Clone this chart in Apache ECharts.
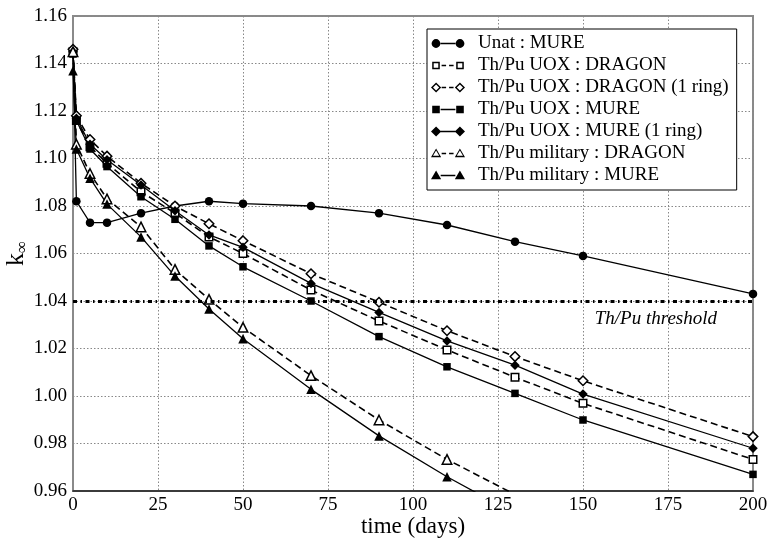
<!DOCTYPE html>
<html>
<head>
<meta charset="utf-8">
<script src="https://cdn.jsdelivr.net/npm/echarts@6/dist/echarts.min.js"></script>
<style>html,body{margin:0;padding:0;background:#fff;}#c{width:769px;height:539px;}</style>
</head>
<body>
<div id="c"></div>
<script>
// ---- data ----
const times = [0, 1, 5, 10, 20, 30, 40, 50, 70, 90, 110, 130, 150, 200];
const unatMure       = [1.145, 1.082, 1.073, 1.073, 1.077, 1.080, 1.082, 1.081, 1.080, 1.077, 1.072, 1.065, 1.059, 1.043];
const uoxDragon      = [1.145, 1.116, 1.105, 1.098, 1.086, 1.077, 1.067, 1.060, 1.0446, 1.0316, 1.0194, 1.0079, 0.9969, 0.9733];
const uoxDragon1     = [1.146, 1.118, 1.108, 1.101, 1.0896, 1.080, 1.0725, 1.0654, 1.0515, 1.0395, 1.0275, 1.0166, 1.0064, 0.9829];
const uoxMure        = [1.144, 1.116, 1.104, 1.0966, 1.0839, 1.0744, 1.0632, 1.0544, 1.040, 1.025, 1.0123, 1.0011, 0.9899, 0.967];
const uoxMure1       = [1.145, 1.117, 1.106, 1.0995, 1.0888, 1.078, 1.0678, 1.0626, 1.0474, 1.0352, 1.0232, 1.013, 1.0008, 0.978];
const milDragon      = [1.145, 1.106, 1.0937, 1.083, 1.0712, 1.0533, 1.0407, 1.0289, 1.0086, 0.9899, 0.9733, 0.9585];
const milMure        = [1.137, 1.104, 1.0917, 1.0808, 1.0670, 1.0505, 1.0366, 1.0241, 1.0028, 0.9832, 0.966, 0.9504];
const seriesNames = ['Unat : MURE', 'Th/Pu UOX : DRAGON', 'Th/Pu UOX : DRAGON (1 ring)', 'Th/Pu UOX : MURE',
                     'Th/Pu UOX : MURE (1 ring)', 'Th/Pu military : DRAGON', 'Th/Pu military : MURE'];
const thresholdValue = 1.04;
const thresholdLabel = 'Th/Pu threshold';
const xTicks = [0, 25, 50, 75, 100, 125, 150, 175, 200];
const yTicks = [0.96, 0.98, 1.00, 1.02, 1.04, 1.06, 1.08, 1.10, 1.12, 1.14, 1.16];

const seriesData = [unatMure, uoxDragon, uoxDragon1, uoxMure, uoxMure1, milDragon, milMure];
const shapes = ['circle', 'rect', 'diamond', 'rect', 'diamond', 'triangle', 'triangle'];
const openFlags = [false, true, true, false, false, true, false];
const dashedFlags = [false, true, true, false, false, true, false];

// ---- legend icon paths ----
function poly(pts) { return 'M' + pts.map(p => p[0].toFixed(2) + ' ' + p[1].toFixed(2)).join(' L') + ' Z '; }
function shapePts(type, cx, cy, s) {
  if (type === 'rect') return [[cx - s, cy - s], [cx + s, cy - s], [cx + s, cy + s], [cx - s, cy + s]];
  if (type === 'diamond') return [[cx, cy - s * 1.35], [cx + s * 1.35, cy], [cx, cy + s * 1.35], [cx - s * 1.35, cy]];
  if (type === 'triangle') return [[cx, cy - s * 1.35], [cx + s * 1.35, cy + s * 1.0], [cx - s * 1.35, cy + s * 1.0]];
  return null;
}
function markerPath(type, cx, cy, open) {
  if (type === 'circle') {
    const r = 4.4;
    return `M${cx - r} ${cy} A${r} ${r} 0 1 1 ${cx + r} ${cy} A${r} ${r} 0 1 1 ${cx - r} ${cy} Z `;
  }
  const s = 3.8;
  let p = poly(shapePts(type, cx, cy, s));
  if (open) {
    const inner = shapePts(type, cx, cy, s - 1.5).reverse();
    p += poly(inner);
  }
  return p;
}
function legendIcon(i) {
  const cy = 5.5, lx = 5, rx = 29;
  let d = 'M0 0 L0.01 0 Z M34 11 L33.99 11 Z ';
  d += markerPath(shapes[i], lx, cy, openFlags[i]);
  d += markerPath(shapes[i], rx, cy, openFlags[i]);
  const x0 = lx + 4.6, x1 = rx - 4.6, y0 = cy - 0.75, y1 = cy + 0.75;
  if (!dashedFlags[i]) {
    d += poly([[x0, y0], [x1, y0], [x1, y1], [x0, y1]]);
  } else {
    const dash = 4.5, gap = 3;
    let x = x0 + 1;
    while (x < x1 - 0.5) {
      const xe = Math.min(x + dash, x1 - 1);
      d += poly([[x, y0], [xe, y0], [xe, y1], [x, y1]]);
      x = xe + gap;
    }
  }
  return 'path://' + d;
}

const serif = 'Liberation Serif, Times New Roman, serif';
const series = seriesData.map((vals, i) => {
  const open = openFlags[i];
  const size = shapes[i] === 'rect' ? 7.5 : (shapes[i] === 'circle' ? 8.5 : 9.5);
  const s = {
    name: seriesNames[i],
    type: 'line',
    data: vals.map((v, k) => [times[k], v]),
    symbol: shapes[i],
    symbolSize: size,
    showSymbol: true,
    clip: true,
    itemStyle: open ? { color: '#fff', borderColor: '#000', borderWidth: 1.5 } : { color: '#000', borderColor: '#000', borderWidth: 0 },
    lineStyle: { color: '#000', width: dashedFlags[i] ? 1.6 : 1.3, type: dashedFlags[i] ? [7, 4] : 'solid' },
    emphasis: { disabled: true },
    z: 3
  };
  if (i === 0) {
    s.markLine = {
      silent: true,
      symbol: 'none',
      animation: false,
      lineStyle: { color: '#000', width: 2.8, type: [4, 3.5, 1.5, 3.5] },
      label: {
        show: true, position: 'insideEndBottom', formatter: thresholdLabel,
        fontFamily: serif, fontStyle: 'italic', fontSize: 19, color: '#000',
        padding: [2, 30, 0, 0], distance: 6
      },
      data: [{ yAxis: thresholdValue }]
    };
  }
  return s;
});

const chart = echarts.init(document.getElementById('c'));
chart.setOption({
  animation: false,
  backgroundColor: '#fff',
  grid: { left: 73, right: 16, top: 16, bottom: 48, containLabel: false, outerBoundsMode: 'none',
          show: true, borderColor: '#8a8a8a', borderWidth: 2, backgroundColor: 'transparent' },
  legend: {
    orient: 'vertical',
    left: 427, top: 29,
    padding: [5, 8, 5, 4],
    itemGap: 3,
    itemWidth: 34, itemHeight: 11,
    backgroundColor: '#fff',
    borderColor: '#000', borderWidth: 1,
    textStyle: { fontFamily: serif, fontSize: 19, color: '#000', lineHeight: 19, padding: [0, 0, 0, 8] },
    selectedMode: false,
    data: seriesNames.map((n, i) => ({ name: n, icon: legendIcon(i), itemStyle: { color: '#000', borderWidth: 0, opacity: 1 } }))
  },
  xAxis: {
    type: 'value', min: xTicks[0], max: xTicks[xTicks.length - 1], interval: 25,
    name: 'time (days)', nameLocation: 'middle', nameGap: 24, nameMoveOverlap: false,
    nameTextStyle: { fontFamily: serif, fontSize: 23, color: '#000' },
    axisLine: { show: true, lineStyle: { color: '#222', width: 1.5 } },
    axisTick: { show: false },
    axisLabel: { fontFamily: serif, fontSize: 19, color: '#000', margin: 5 },
    splitLine: { show: true, lineStyle: { color: '#888', width: 1, type: [1.5, 2] } }
  },
  yAxis: {
    type: 'value', min: yTicks[0], max: yTicks[yTicks.length - 1], interval: 0.02,
    name: 'k{s|∞}', nameLocation: 'middle', nameGap: 42, nameMoveOverlap: false,
    nameTextStyle: { fontFamily: serif, fontSize: 26, color: '#000', rich: { s: { fontFamily: serif, fontSize: 17, verticalAlign: 'bottom', padding: [12, 0, 0, 0] } } },
    axisLine: { show: true, lineStyle: { color: '#8a8a8a', width: 2 } },
    axisTick: { show: false },
    axisLabel: { fontFamily: serif, fontSize: 19, color: '#000', margin: 6, formatter: v => v.toFixed(2) },
    splitLine: { show: true, lineStyle: { color: '#888', width: 1, type: [1.5, 2] } }
  },
  series: series
});
</script>
</body>
</html>
